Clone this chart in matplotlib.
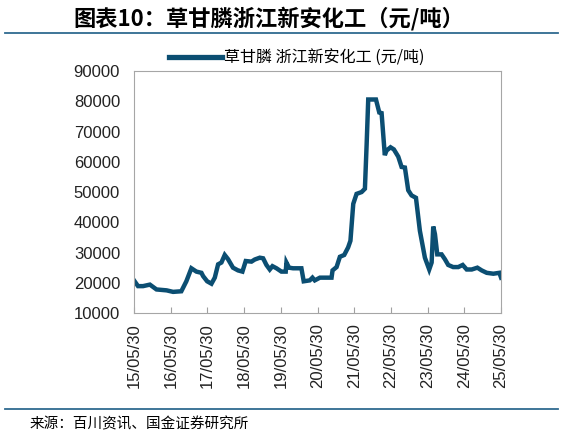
import numpy as np
import pandas as pd
import matplotlib
matplotlib.use('Agg')
import matplotlib.pyplot as plt
import matplotlib.dates as mdates

plt.rcParams['font.family'] = ['Liberation Sans', 'Noto Sans CJK SC', 'DejaVu Sans']

# 草甘膦 浙江新安化工 价格（元/吨）
dates = [
    '2015-05-30', '2015-07-09', '2015-08-28', '2015-11-04', '2016-01-09',
    '2016-04-19', '2016-06-22', '2016-09-12', '2016-11-01', '2016-12-21',
    '2017-02-09', '2017-03-31', '2017-04-17', '2017-05-27', '2017-07-09',
    '2017-08-11', '2017-09-13', '2017-10-16', '2017-11-18', '2017-12-21',
    '2018-02-08', '2018-03-30', '2018-05-13', '2018-06-15', '2018-08-11',
    '2018-09-13', '2018-11-02', '2018-12-05', '2019-01-07', '2019-02-09',
    '2019-03-08', '2019-04-17', '2019-06-05', '2019-07-18', '2019-07-25',
    '2019-08-20', '2019-09-29', '2019-12-21', '2020-01-13', '2020-03-13',
    '2020-04-09', '2020-05-02', '2020-06-22', '2020-10-16', '2020-10-26',
    '2020-12-05', '2021-01-07', '2021-02-19', '2021-03-30', '2021-04-22',
    '2021-05-20', '2021-06-22', '2021-08-11', '2021-09-13', '2021-09-30',
    '2021-10-16', '2022-01-01', '2022-02-03', '2022-02-26', '2022-03-30',
    '2022-04-16', '2022-05-26', '2022-06-28', '2022-08-11', '2022-09-13',
    '2022-10-16', '2022-11-18', '2022-12-21', '2023-02-03', '2023-03-14',
    '2023-05-03', '2023-06-15', '2023-07-09', '2023-07-25', '2023-08-11',
    '2023-09-03', '2023-10-16', '2023-11-18', '2023-12-21', '2024-02-08',
    '2024-03-30', '2024-05-13', '2024-06-22', '2024-08-11', '2024-10-06',
    '2024-11-18', '2025-01-07', '2025-03-14', '2025-05-13', '2025-05-30',
]
prices = [
    20800, 18900, 18900, 19400, 17800,
    17500, 17000, 17200, 20500, 24800,
    23700, 23300, 22200, 20500, 19700,
    21700, 26100, 26700, 29200, 27800,
    25000, 24100, 23700, 27200, 27000,
    27700, 28300, 28100, 25900, 24400,
    25500, 24800, 23700, 23700, 26700,
    25000, 24800, 24800, 20500, 20800,
    21700, 20800, 21700, 21700, 24100,
    25200, 28600, 29200, 31700, 33900,
    46100, 49400, 50000, 51100, 65600,
    80600, 80600, 76300, 76100, 62200,
    63700, 64800, 64100, 61700, 58300,
    58100, 50600, 48900, 48100, 37200,
    28300, 24400, 26700, 38600, 36100,
    29400, 29400, 27800, 25900, 25200,
    25200, 25900, 24400, 24400, 25000,
    24100, 23300, 23000, 23300, 21700,
]
tick_dates = ['%d-05-30' % y for y in range(2015, 2026)]
series_label = '草甘膦 浙江新安化工 (元/吨)'
title = '图表10：草甘膦浙江新安化工（元/吨）'
source = '来源：百川资讯、国金证券研究所'

line_color = '#0b4e72'
rule_color = '#2f6a90'
cjk = ['Noto Sans CJK SC', 'DejaVu Sans']

fig = plt.figure(figsize=(5.63, 4.36), dpi=100)
ax = fig.add_axes([0.238, 0.282, 0.652, 0.555])

x = pd.to_datetime(dates)
ax.plot(x, prices, color=line_color, linewidth=3.2, label=series_label,
        solid_joinstyle='miter')

ticks = pd.to_datetime(tick_dates)
ax.set_xlim(ticks[0], ticks[-1])
ax.set_xticks(ticks)
ax.xaxis.set_major_formatter(mdates.DateFormatter('%y/%m/%d'))
ax.set_ylim(10000, 90000)
ax.set_yticks(np.arange(10000, 90001, 10000))

ax.tick_params(axis='x', direction='in', length=4, color='#a0a0a0',
               labelrotation=90, labelsize=12, pad=7, labelcolor='#222222')
ax.tick_params(axis='y', length=0, labelsize=12, pad=10, labelcolor='#222222')
for s in ax.spines.values():
    s.set_color('#a6a6a6')
    s.set_linewidth(0.8)

leg = fig.legend(loc='center left', bbox_to_anchor=(0.300, 0.867), frameon=False,
                 handlelength=3.3, handletextpad=0.15, borderpad=0,
                 borderaxespad=0, prop={'family': cjk, 'size': 11.5})
leg.get_lines()[0].set_linewidth(3.8)

fig.text(0.130, 0.957, title, fontsize=16, fontweight='bold', style='italic',
         family=cjk, va='center', ha='left')
fig.add_artist(plt.Line2D([0.009, 0.991], [0.925, 0.925], color=rule_color,
                          linewidth=1.3, transform=fig.transFigure))
fig.add_artist(plt.Line2D([0.009, 0.991], [0.062, 0.062], color=rule_color,
                          linewidth=1.3, transform=fig.transFigure))
fig.text(0.053, 0.027, source, fontsize=10.5, family=cjk, va='center', ha='left')

fig.savefig('out.png', dpi=100)
